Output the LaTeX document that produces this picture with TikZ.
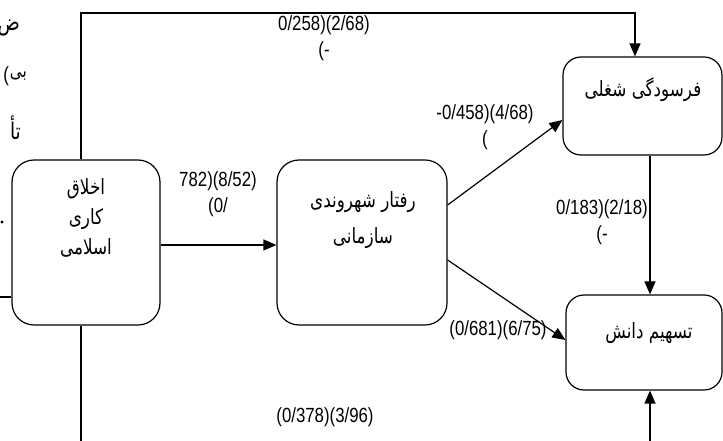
\documentclass[tikz,border=0pt]{standalone}
\usepackage{fontspec}
\setmainfont{Liberation Sans}
\newfontfamily\numfont[FakeStretch=0.82]{Liberation Sans}
\newfontfamily\farsi[Script=Arabic, FakeStretch=0.8]{DejaVu Sans}
\TeXXeTstate=1
\usetikzlibrary{arrows.meta, positioning}
\tikzset{
  box/.style={% rounded boxes of the model
      rectangle, rounded corners=22pt,
      line width=1.2pt,
      draw=black,
  },
  txt/.style={% persian text
      font=\farsi\fontsize{21}{31}\selectfont,
      align=center, inner sep=0pt,
  },
  cut/.style={% cut text on the left edge
      font=\farsi\fontsize{23}{25}\selectfont,
      anchor=east, inner sep=0pt,
  },
  val/.style={% path coefficients
      font=\numfont\fontsize{20.5}{26}\selectfont,
      align=center, inner sep=0pt,
  },
  link/.style={line width=1.2pt},
  arr/.style={line width=1.2pt, -{Triangle[length=13pt,width=11pt]}},
}
\begin{document}
\begin{tikzpicture}[x=1pt, y=1pt]
  \useasboundingbox (0,0) rectangle (723,441);
  % boxes
  \node[box, minimum width=148pt, minimum height=165pt] (ethics) at (86,198.5) {};
  \node[box, minimum width=170pt, minimum height=165pt] (OCB) at (362,198.5) {};
  \node[box, rounded corners=18pt, minimum width=159pt, minimum height=98pt] (burnout) at (642.5,335) {};
  \node[box, rounded corners=18pt, minimum width=156pt, minimum height=95pt] (sharing) at (644,98.5) {};
  % texts of the boxes
  \node[txt, font=\farsi\fontsize{21}{30}\selectfont] (ethicsTxt) at (86,223)
    {\beginR اخلاق\endR\\\beginR کاری\endR\\\beginR اسلامی\endR};
  \node[txt, font=\farsi\fontsize{21}{36}\selectfont] (OCBTxt) at (363,221)
    {\beginR رفتار شهروندی\endR\\\beginR سازمانی\endR};
  \node[txt] (burnoutTxt) at (643,351) {\beginR فرسودگی شغلی\endR};
  \node[txt] (sharingTxt) at (649,108) {\beginR تسهیم دانش\endR};
  % cut text on the left edge
  \node[cut] (cut1) at (20,413) {\beginR ض\endR};
  \node[cut, font=\farsi\fontsize{19}{22}\selectfont] (cut2) at (27,365) {\beginR بی\endR};
  \node[val, anchor=east, left=0.5pt of cut2] (cut2p) {(};
  \node[cut] (cut3) at (21,313) {\beginR تأ\endR};
  \fill (2,219) circle (1.6pt);
  % free ends
  \coordinate (topL) at (81,428);
  \coordinate (topR) at (635,428);
  \coordinate (botL) at (81,-2);
  \coordinate (botR) at (650,-2);
  \coordinate (leftIn) at (-2,144);
  % connectors
  \draw[arr] (ethics.north -| topL) -- (topL) -- (topR) -- (burnout.north -| topR);
  \draw[arr] ([yshift=-2.5pt]ethics.east) -- ([yshift=-2.5pt]OCB.west);
  \draw[arr] ([yshift=37.5pt]OCB.east) -- ([yshift=-14pt]burnout.west);
  \draw[arr] ([yshift=-17.5pt]OCB.east) -- ([yshift=2.5pt]sharing.west);
  \draw[arr] ([xshift=7.5pt]burnout.south) -- ([xshift=7.5pt]burnout.south |- sharing.north);
  \draw[arr] (botR) -- (botR |- sharing.south);
  \draw[link] (ethics.south -| botL) -- (botL);
  \draw[link] (leftIn) -- (leftIn -| ethics.west);
  % coefficients
  \node[val] (vTop) at (324,403) {0/258)(2/68)\\(-};
  \node[val] (vEO) at (218,246.5) {782)(8/52)\\(0/};
  \node[val] (vOB) at (485,313.5) {-0/458)(4/68)\\(};
  \node[val] (vOS) at (498,111) {(0/681)(6/75)};
  \node[val] (vBS) at (602,219) {0/183)(2/18)\\(-};
  \node[val] (vES) at (325,24) {(0/378)(3/96)};
\end{tikzpicture}
\end{document}
